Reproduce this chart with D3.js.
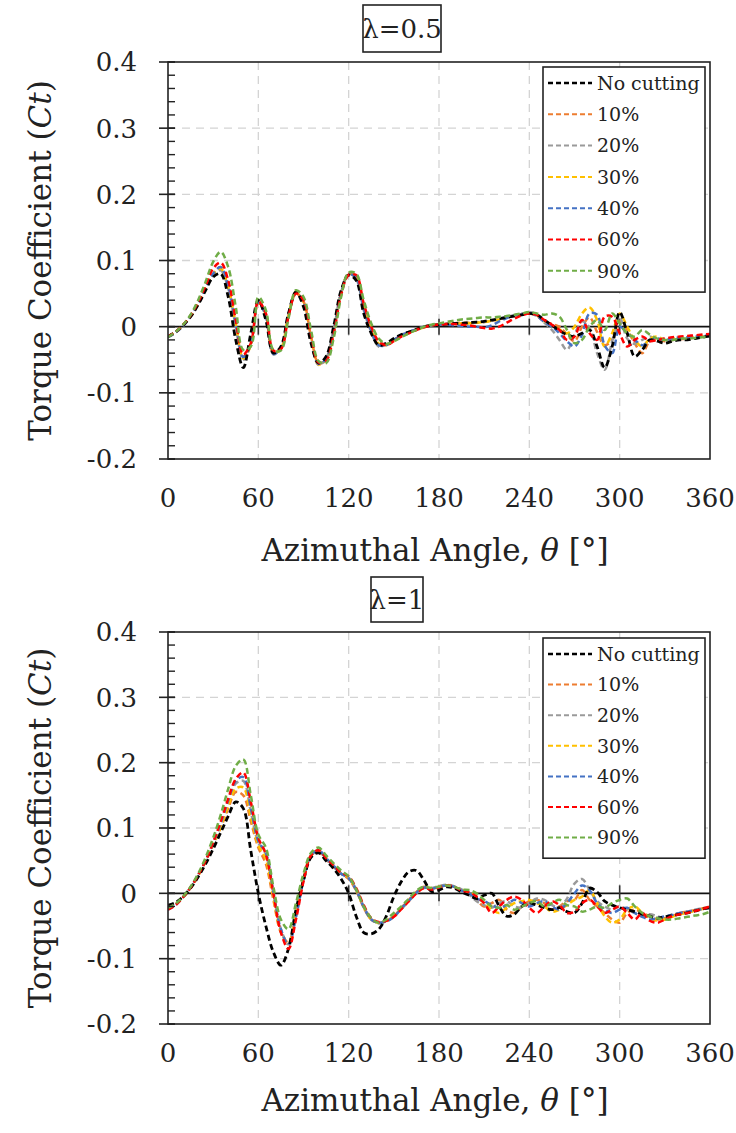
<!DOCTYPE html>
<html><head><meta charset="utf-8">
<script src="https://cdn.jsdelivr.net/npm/d3@7"></script>
<style>
html,body{margin:0;padding:0;background:#fff;}
svg{display:block;font-family:"DejaVu Serif",serif;}
</style></head>
<body><svg id="c" width="736" height="1133"></svg>
<script>
// ---- data (theta step 5 deg, 0..360) ----
const angles = d3.range(0, 361, 5);
const seriesNames = ["No cutting","10%","20%","30%","40%","60%","90%"];
const seriesColors = ["#000000","#ED7D31","#9a9a9a","#FFC000","#4472C4","#FF0000","#70AD47"];
const xTicks = [0,60,120,180,240,300,360];
const yTicks = [-0.2,-0.1,0,0.1,0.2,0.3,0.4];
const yTickLabels = ["-0.2","-0.1","0","0.1","0.2","0.3","0.4"];
const titles = ["λ=0.5","λ=1"];

// lambda = 0.5
const top_nc = [-0.015,-0.008,0.002,0.015,0.033,0.055,0.075,0.080,0.045,-0.020,
 -0.062,-0.010,0.040,0.010,-0.040,-0.030,0.020,0.052,0.030,-0.025,
 -0.055,-0.045,0.000,0.055,0.078,0.070,0.020,-0.010,-0.028,-0.025,
 -0.018,-0.012,-0.008,-0.004,0.000,0.002,0.003,0.004,0.005,0.005,
 0.006,0.007,0.008,0.010,0.012,0.014,0.016,0.018,0.020,0.018,
 0.010,0.002,-0.006,-0.012,-0.015,-0.010,-0.005,-0.030,-0.062,-0.030,
 0.022,-0.010,-0.045,-0.035,-0.020,-0.022,-0.025,-0.022,-0.020,-0.020,
 -0.018,-0.016,-0.014];
const top_10 = [-0.015,-0.008,0.002,0.016,0.035,0.058,0.080,0.090,0.065,0.010,
 -0.045,-0.028,0.036,0.020,-0.038,-0.034,0.016,0.050,0.038,-0.015,
 -0.055,-0.050,-0.010,0.050,0.080,0.075,0.030,-0.005,-0.028,-0.027,
 -0.020,-0.013,-0.008,-0.004,0.000,0.002,0.003,0.004,0.005,0.006,
 0.006,0.006,0.007,0.009,0.011,0.014,0.017,0.019,0.020,0.016,
 0.008,0.004,0.000,-0.012,-0.022,0.000,0.014,-0.008,-0.028,-0.020,
 0.008,-0.005,-0.025,-0.040,-0.022,-0.020,-0.022,-0.020,-0.019,-0.018,
 -0.016,-0.015,-0.013];
const top_20 = [-0.016,-0.009,0.001,0.015,0.034,0.057,0.078,0.085,0.058,0.000,
 -0.050,-0.025,0.038,0.015,-0.042,-0.032,0.018,0.051,0.034,-0.020,
 -0.058,-0.048,-0.005,0.052,0.080,0.072,0.025,-0.008,-0.030,-0.027,
 -0.020,-0.013,-0.008,-0.004,0.000,0.002,0.003,0.004,0.005,0.005,
 0.005,0.006,0.007,0.009,0.012,0.015,0.017,0.019,0.022,0.018,
 0.006,-0.005,-0.020,-0.035,-0.012,0.008,-0.002,-0.040,-0.065,-0.022,
 0.014,-0.018,-0.026,-0.020,-0.015,-0.020,-0.018,-0.020,-0.018,-0.017,
 -0.016,-0.015,-0.014];
const top_30 = [-0.015,-0.008,0.002,0.016,0.035,0.058,0.079,0.088,0.060,0.005,
 -0.048,-0.028,0.036,0.018,-0.040,-0.033,0.017,0.053,0.036,-0.018,
 -0.057,-0.050,-0.008,0.050,0.080,0.076,0.030,-0.004,-0.026,-0.028,
 -0.021,-0.014,-0.009,-0.005,-0.001,0.002,0.003,0.004,0.004,0.005,
 0.005,0.006,0.007,0.009,0.011,0.014,0.017,0.019,0.021,0.017,
 0.008,0.002,-0.004,-0.010,0.000,0.020,0.029,0.010,-0.030,-0.010,
 0.020,0.000,-0.020,-0.030,-0.018,-0.015,-0.020,-0.018,-0.017,-0.017,
 -0.016,-0.014,-0.013];
const top_40 = [-0.016,-0.009,0.001,0.016,0.035,0.058,0.080,0.090,0.062,0.005,
 -0.046,-0.026,0.037,0.016,-0.041,-0.033,0.018,0.052,0.035,-0.019,
 -0.056,-0.049,-0.007,0.051,0.079,0.074,0.028,-0.006,-0.028,-0.028,
 -0.020,-0.013,-0.008,-0.004,0.000,0.002,0.003,0.003,0.002,0.001,
 0.000,0.000,-0.001,0.002,0.008,0.013,0.017,0.019,0.021,0.016,
 0.007,0.000,-0.010,-0.022,-0.030,-0.012,0.020,0.018,-0.028,-0.040,
 0.000,-0.010,-0.020,-0.028,-0.022,-0.018,-0.020,-0.018,-0.016,-0.016,
 -0.015,-0.014,-0.013];
const top_60 = [-0.015,-0.008,0.003,0.017,0.037,0.062,0.088,0.097,0.070,0.010,
 -0.042,-0.025,0.038,0.020,-0.036,-0.034,0.015,0.050,0.040,-0.012,
 -0.054,-0.052,-0.012,0.048,0.078,0.078,0.035,0.000,-0.022,-0.028,
 -0.022,-0.015,-0.010,-0.005,-0.001,0.002,0.003,0.004,0.004,0.003,
 0.002,0.000,-0.002,-0.003,0.000,0.006,0.012,0.017,0.020,0.018,
 0.010,0.003,-0.005,-0.020,-0.015,0.010,-0.010,-0.020,0.015,0.015,
 -0.010,-0.030,-0.020,-0.015,-0.022,-0.020,-0.018,-0.016,-0.015,-0.014,
 -0.013,-0.012,-0.011];
const top_90 = [-0.016,-0.008,0.003,0.018,0.040,0.068,0.098,0.113,0.090,0.030,
 -0.035,-0.030,0.045,0.025,-0.035,-0.036,0.012,0.055,0.045,-0.005,
 -0.052,-0.055,-0.018,0.045,0.082,0.080,0.040,0.005,-0.018,-0.026,
 -0.022,-0.016,-0.010,-0.005,0.000,0.003,0.005,0.007,0.009,0.011,
 0.012,0.013,0.014,0.014,0.015,0.016,0.018,0.020,0.022,0.020,
 0.018,0.020,0.015,-0.005,-0.025,-0.020,0.000,0.010,-0.005,0.020,
 0.005,-0.010,-0.015,-0.005,-0.012,-0.018,-0.020,-0.020,-0.018,-0.018,
 -0.017,-0.016,-0.015];

// lambda = 1
const bot_nc = [-0.018,-0.014,-0.005,0.008,0.025,0.045,0.068,0.093,0.118,0.140,
 0.130,0.065,0.000,-0.050,-0.090,-0.110,-0.085,-0.025,0.020,0.055,
 0.062,0.050,0.038,0.022,0.000,-0.035,-0.060,-0.062,-0.055,-0.035,
 -0.005,0.018,0.033,0.035,0.020,0.003,0.005,0.010,0.008,0.002,
 -0.003,-0.008,-0.003,0.000,-0.020,-0.035,-0.032,-0.020,-0.015,-0.018,
 -0.022,-0.025,-0.022,-0.028,-0.030,-0.015,0.008,0.002,-0.012,-0.018,
 -0.022,-0.025,-0.028,-0.032,-0.035,-0.038,-0.036,-0.034,-0.032,-0.030,
 -0.027,-0.024,-0.022];
const bot_10 = [-0.024,-0.017,-0.006,0.009,0.027,0.049,0.074,0.100,0.130,0.155,
 0.150,0.110,0.070,0.045,-0.010,-0.060,-0.075,-0.030,0.022,0.058,
 0.063,0.052,0.040,0.030,0.022,0.004,-0.022,-0.040,-0.045,-0.042,
 -0.035,-0.022,-0.010,0.002,0.010,0.007,0.010,0.013,0.010,0.005,
 0.000,-0.010,-0.020,-0.015,-0.010,-0.025,-0.030,-0.020,-0.012,-0.010,
 -0.015,-0.025,-0.020,-0.012,-0.010,0.005,-0.010,-0.020,-0.030,-0.040,
 -0.045,-0.030,-0.025,-0.030,-0.035,-0.040,-0.038,-0.035,-0.030,-0.028,
 -0.026,-0.023,-0.020];
const bot_20 = [-0.024,-0.017,-0.006,0.009,0.028,0.050,0.076,0.104,0.138,0.168,
 0.172,0.125,0.078,0.060,0.000,-0.055,-0.078,-0.035,0.020,0.058,
 0.065,0.053,0.041,0.030,0.024,0.006,-0.020,-0.040,-0.046,-0.043,
 -0.036,-0.024,-0.012,0.000,0.008,0.008,0.011,0.013,0.011,0.006,
 -0.002,-0.012,-0.018,-0.022,-0.015,-0.012,-0.020,-0.022,-0.015,-0.008,
 -0.010,-0.018,-0.022,-0.008,0.015,0.022,0.005,-0.012,-0.020,-0.025,
 -0.020,-0.025,-0.030,-0.035,-0.032,-0.035,-0.038,-0.032,-0.030,-0.028,
 -0.025,-0.023,-0.021];
const bot_30 = [-0.024,-0.017,-0.006,0.009,0.027,0.049,0.075,0.102,0.134,0.160,
 0.162,0.118,0.074,0.052,-0.005,-0.058,-0.076,-0.032,0.021,0.058,
 0.066,0.055,0.042,0.031,0.024,0.005,-0.021,-0.040,-0.045,-0.042,
 -0.035,-0.023,-0.011,0.001,0.009,0.008,0.010,0.012,0.010,0.005,
 0.002,-0.005,-0.015,-0.025,-0.030,-0.022,-0.015,-0.012,-0.010,-0.015,
 -0.020,-0.028,-0.025,-0.018,-0.010,-0.005,0.005,-0.015,-0.035,-0.045,
 -0.040,-0.025,-0.020,-0.030,-0.038,-0.042,-0.040,-0.036,-0.032,-0.030,
 -0.027,-0.024,-0.021];
const bot_40 = [-0.025,-0.018,-0.006,0.009,0.028,0.050,0.077,0.107,0.142,0.172,
 0.178,0.130,0.080,0.062,0.002,-0.055,-0.078,-0.036,0.020,0.058,
 0.066,0.054,0.042,0.030,0.023,0.005,-0.021,-0.040,-0.045,-0.043,
 -0.036,-0.023,-0.011,0.001,0.009,0.007,0.010,0.012,0.010,0.004,
 0.000,-0.008,-0.012,-0.018,-0.022,-0.018,-0.010,-0.015,-0.020,-0.015,
 -0.012,-0.020,-0.025,-0.015,0.000,0.012,0.005,-0.015,-0.025,-0.030,
 -0.025,-0.022,-0.030,-0.036,-0.040,-0.038,-0.035,-0.033,-0.030,-0.028,
 -0.026,-0.024,-0.022];
const bot_60 = [-0.025,-0.018,-0.006,0.009,0.028,0.050,0.078,0.110,0.145,0.175,
 0.185,0.140,0.085,0.060,0.000,-0.060,-0.085,-0.040,0.018,0.058,
 0.066,0.054,0.043,0.032,0.026,0.008,-0.018,-0.038,-0.044,-0.042,
 -0.036,-0.024,-0.012,0.000,0.008,0.006,0.009,0.012,0.010,0.004,
 0.002,-0.005,-0.015,-0.030,-0.020,-0.010,-0.005,-0.010,-0.022,-0.030,
 -0.020,-0.012,-0.018,-0.030,-0.028,-0.015,-0.010,-0.020,-0.030,-0.025,
 -0.020,-0.030,-0.040,-0.030,-0.042,-0.045,-0.040,-0.035,-0.032,-0.030,
 -0.027,-0.024,-0.020];
const bot_90 = [-0.022,-0.016,-0.005,0.010,0.030,0.055,0.085,0.120,0.160,0.195,
 0.205,0.150,0.090,0.070,0.010,-0.040,-0.055,-0.015,0.030,0.062,
 0.070,0.058,0.046,0.035,0.026,0.006,-0.020,-0.038,-0.045,-0.040,
 -0.030,-0.020,-0.008,0.004,0.010,0.008,0.010,0.012,0.010,0.006,
 0.005,0.000,-0.010,-0.020,-0.022,-0.018,-0.025,-0.020,-0.015,-0.012,
 -0.020,-0.015,-0.010,-0.018,-0.020,-0.028,-0.025,-0.020,-0.022,-0.015,
 -0.010,-0.008,-0.020,-0.030,-0.035,-0.038,-0.040,-0.040,-0.038,-0.036,
 -0.034,-0.032,-0.028];

const panels = [
  {title: titles[0], series:[top_nc,top_10,top_20,top_30,top_40,top_60,top_90],
   top:62, bottom:459, titleBox:[363,5,78,47], tickY:507, axisTitleY:561, legTop:67, legStep:31.3},
  {title: titles[1], series:[bot_nc,bot_10,bot_20,bot_30,bot_40,bot_60,bot_90],
   top:632, bottom:1024, titleBox:[371,577,52,45], tickY:1062, axisTitleY:1111, legTop:638, legStep:30.6}
];

const svg = d3.select("#c");
const L = 168, R = 710;

panels.forEach((p, pi) => {
  const x = d3.scaleLinear().domain([0,360]).range([L,R]);
  const y = d3.scaleLinear().domain([-0.2,0.4]).range([p.bottom,p.top]);
  const g = svg.append("g");

  // grid
  g.selectAll(".gx").data([60,120,180,240,300]).join("line")
    .attr("x1",d=>x(d)).attr("x2",d=>x(d)).attr("y1",p.top).attr("y2",p.bottom)
    .attr("stroke","#d4d4d4").attr("stroke-width",1.3).attr("stroke-dasharray","8,6");
  g.selectAll(".gy").data([-0.1,0.1,0.2,0.3]).join("line")
    .attr("x1",L).attr("x2",R).attr("y1",d=>y(d)).attr("y2",d=>y(d))
    .attr("stroke","#d4d4d4").attr("stroke-width",1.3).attr("stroke-dasharray","8,6");

  // zero line with ticks
  g.append("line").attr("x1",L).attr("x2",R).attr("y1",y(0)).attr("y2",y(0))
    .attr("stroke","#111").attr("stroke-width",1.6);
  g.selectAll(".zt").data([60,120,180,240,300]).join("line")
    .attr("x1",d=>x(d)).attr("x2",d=>x(d)).attr("y1",y(0)-8).attr("y2",y(0)+8)
    .attr("stroke","#333").attr("stroke-width",1.6);

  // curves
  const clipId = "clip"+pi;
  svg.append("clipPath").attr("id",clipId).append("rect")
    .attr("x",L).attr("y",p.top).attr("width",R-L).attr("height",p.bottom-p.top);
  const line = d3.line().x((d,i)=>x(angles[i])).y(d=>y(d)).curve(d3.curveCatmullRom.alpha(0.5));
  const cg = g.append("g").attr("clip-path",`url(#${clipId})`);
  const order = [1,2,3,4,0,5,6];
  order.forEach(si => {
    cg.append("path").attr("d", line(p.series[si]))
      .attr("fill","none").attr("stroke",seriesColors[si])
      .attr("stroke-width", si===0 ? 2.8 : 2.5)
      .attr("stroke-dasharray", "6,3.5");
  });

  // frame
  g.append("rect").attr("x",L).attr("y",p.top).attr("width",R-L).attr("height",p.bottom-p.top)
    .attr("fill","none").attr("stroke","#222").attr("stroke-width",1.6);

  // y axis ticks
  const minor = d3.range(-0.2, 0.4001, 0.02);
  g.selectAll(".mt").data(minor).join("line")
    .attr("x1",L).attr("x2",L+7).attr("y1",d=>y(d)).attr("y2",d=>y(d))
    .attr("stroke","#222").attr("stroke-width",1.4);
  g.selectAll(".Mt").data(yTicks).join("line")
    .attr("x1",L-9).attr("x2",L+7).attr("y1",d=>y(d)).attr("y2",d=>y(d))
    .attr("stroke","#222").attr("stroke-width",1.6);
  g.selectAll(".yl").data(yTicks).join("text")
    .attr("x",137).attr("y",d=>y(d)).attr("dy","0.36em")
    .attr("text-anchor","end").attr("font-size",26).attr("fill","#222")
    .text((d,i)=>yTickLabels[i]);

  // x tick labels
  g.selectAll(".xl").data(xTicks).join("text")
    .attr("x",d=>x(d)).attr("y",p.tickY).attr("text-anchor","middle")
    .attr("font-size",26).attr("fill","#222").text(d=>d);

  // axis titles
  const xt = g.append("text").attr("x",(L+R)/2-4).attr("y",p.axisTitleY)
    .attr("text-anchor","middle").attr("font-size",31).attr("fill","#222");
  xt.append("tspan").text("Azimuthal Angle, ");
  xt.append("tspan").attr("font-style","italic").text("θ");
  xt.append("tspan").text(" [°]");

  const yt = g.append("text").attr("transform",`translate(51,${(p.top+p.bottom)/2}) rotate(-90)`)
    .attr("text-anchor","middle").attr("font-size",31).attr("fill","#222");
  yt.append("tspan").text("Torque Coefficient (");
  yt.append("tspan").attr("font-style","italic").text("Ct");
  yt.append("tspan").text(")");

  // title box
  const tb = p.titleBox;
  g.append("rect").attr("x",tb[0]).attr("y",tb[1]).attr("width",tb[2]).attr("height",tb[3])
    .attr("fill","#fff").attr("stroke","#222").attr("stroke-width",1.6);
  g.append("text").attr("x",tb[0]+tb[2]/2).attr("y",tb[1]+tb[3]/2).attr("dy","0.36em")
    .attr("text-anchor","middle").attr("font-size",26).attr("fill","#222").text(p.title);

  // legend
  const lx = 543, lw = 162;
  const lh = p.legStep*7 + 6;
  g.append("rect").attr("x",lx).attr("y",p.legTop).attr("width",lw).attr("height",lh)
    .attr("fill","#fff").attr("stroke","#222").attr("stroke-width",1.6);
  seriesNames.forEach((nm, i) => {
    const yy = p.legTop + 16 + i*p.legStep;
    g.append("line").attr("x1",lx+5).attr("x2",lx+49).attr("y1",yy).attr("y2",yy)
      .attr("stroke",seriesColors[i]).attr("stroke-width", i===0?2.4:2)
      .attr("stroke-dasharray","5,3");
    g.append("text").attr("x",lx+54).attr("y",yy).attr("dy","0.36em")
      .attr("font-size",19).attr("fill","#222").text(nm);
  });
});
</script></body></html>
